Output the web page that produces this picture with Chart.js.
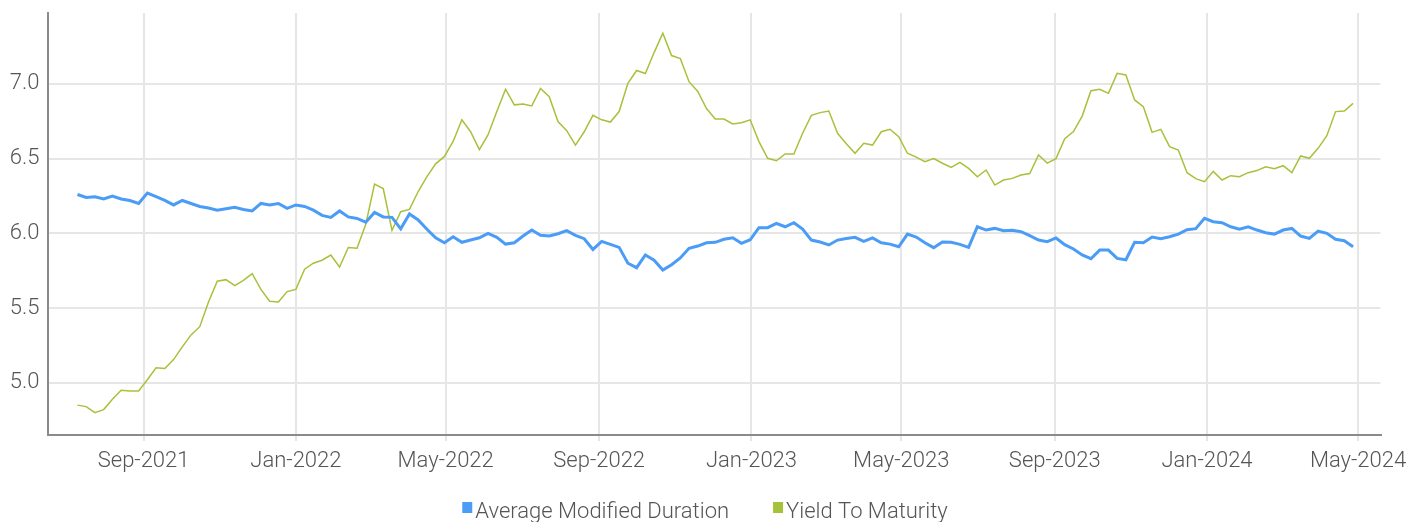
<!DOCTYPE html>
<html>
<head>
<meta charset="utf-8">
<title>Duration and Yield</title>
<script src="https://cdn.jsdelivr.net/npm/chart.js@4.4.1/dist/chart.umd.min.js"></script>
<style>
  html, body { margin: 0; padding: 0; background: #fff; }
  #chart { display: block; }
</style>
</head>
<body>
<canvas id="chart" width="1408" height="522"></canvas>
<script>
// weekly observations, the first one taken on 10 Jul 2021
const startDate = '2021-07-10';
const stepDays = 7;

const modifiedDuration = [
    6.26, 6.24, 6.245, 6.23, 6.25, 6.23, 6.22, 6.20, 6.27, 6.245,
    6.22, 6.19, 6.22, 6.20, 6.18, 6.17, 6.155, 6.165, 6.175, 6.16,
    6.15, 6.20, 6.19, 6.20, 6.167, 6.19, 6.18, 6.155, 6.12, 6.107,
    6.15, 6.11, 6.10, 6.075, 6.14, 6.11, 6.107, 6.03, 6.13, 6.09,
    6.027, 5.97, 5.937, 5.977, 5.94, 5.955, 5.97, 6.0, 5.973, 5.928,
    5.937, 5.982, 6.022, 5.987, 5.982, 5.997, 6.018, 5.987, 5.964, 5.892,
    5.946, 5.926, 5.906, 5.80, 5.77, 5.855, 5.82, 5.754, 5.79, 5.835,
    5.90, 5.915, 5.937, 5.94, 5.96, 5.97, 5.933, 5.957, 6.038, 6.038,
    6.067, 6.044, 6.071, 6.029, 5.955, 5.942, 5.922, 5.955, 5.966, 5.973,
    5.946, 5.969, 5.937, 5.928, 5.91, 5.995, 5.975, 5.937, 5.904, 5.942,
    5.94, 5.926, 5.906, 6.044, 6.022, 6.033, 6.018, 6.02, 6.011, 5.984,
    5.955, 5.944, 5.969, 5.924, 5.895, 5.855, 5.83, 5.888, 5.888, 5.832,
    5.823, 5.94, 5.937, 5.975, 5.964, 5.977, 5.995, 6.024, 6.031, 6.10,
    6.078, 6.071, 6.044, 6.027, 6.044, 6.022, 6.004, 5.995, 6.022, 6.033,
    5.982, 5.966, 6.015, 6.0, 5.96, 5.951, 5.91
];

const yieldToMaturity = [
    4.85, 4.84, 4.80, 4.82, 4.89, 4.95, 4.945, 4.945, 5.02, 5.10,
    5.095, 5.155, 5.24, 5.32, 5.375, 5.54, 5.68, 5.69, 5.65, 5.685,
    5.73, 5.625, 5.545, 5.54, 5.61, 5.625, 5.76, 5.80, 5.82, 5.855,
    5.775, 5.905, 5.90, 6.06, 6.33, 6.30, 6.02, 6.145, 6.16, 6.28,
    6.38, 6.465, 6.515, 6.615, 6.76, 6.68, 6.56, 6.66, 6.815, 6.965,
    6.86, 6.866, 6.853, 6.97, 6.915, 6.748, 6.687, 6.59, 6.68, 6.79,
    6.76, 6.745, 6.815, 7.005, 7.09, 7.07, 7.21, 7.34, 7.19, 7.17,
    7.015, 6.95, 6.835, 6.765, 6.765, 6.732, 6.741, 6.76, 6.614, 6.502,
    6.486, 6.531, 6.531, 6.67, 6.79, 6.808, 6.819, 6.67, 6.60, 6.536,
    6.603, 6.591, 6.68, 6.697, 6.647, 6.536, 6.51, 6.48, 6.50, 6.469,
    6.442, 6.475, 6.435, 6.379, 6.424, 6.323, 6.357, 6.368, 6.39, 6.40,
    6.525, 6.47, 6.50, 6.634, 6.681, 6.785, 6.955, 6.964, 6.937, 7.071,
    7.06, 6.893, 6.848, 6.676, 6.696, 6.58, 6.558, 6.406, 6.366, 6.346,
    6.415, 6.357, 6.386, 6.379, 6.406, 6.42, 6.446, 6.433, 6.453, 6.406,
    6.518, 6.502, 6.569, 6.654, 6.815, 6.819, 6.87
];

const seriesLabels = ['Average Modified Duration', 'Yield To Maturity'];
const seriesColors = ['#4a9cf7', '#a6c23a'];

const tickDates = [
    '2021-09-01', '2022-01-01', '2022-05-01', '2022-09-01', '2023-01-01',
    '2023-05-01', '2023-09-01', '2024-01-01', '2024-05-01'
];
const tickLabels = [
    'Sep-2021', 'Jan-2022', 'May-2022', 'Sep-2022', 'Jan-2023',
    'May-2023', 'Sep-2023', 'Jan-2024', 'May-2024'
];
const yTicks = [5.0, 5.5, 6.0, 6.5, 7.0];

const FONT = "Roboto, 'Liberation Sans', sans-serif";
const TEXT_COLOR = '#555';
const GRID_COLOR = '#e6e6e6';
const AXIS_COLOR = '#8a8a8a';

// x values are whole days since the epoch
const DAY_MS = 86400000;
const toDay = s => Date.parse(s + 'T00:00:00Z') / DAY_MS;

const firstDay = toDay(startDate);
const points = values => values.map((v, i) => ({ x: firstDay + i * stepDays, y: v }));

// legend drawn by hand: small square, tight gap, centred under the plot
const bottomLegend = {
    id: 'bottomLegend',
    afterDraw(chart) {
        const ctx = chart.ctx;
        const items = chart.data.datasets.map(ds => ({ text: ds.label, color: ds.borderColor }));
        const box = 10, gap = 3, spacing = 44;

        ctx.save();
        ctx.font = '300 22px ' + FONT;
        const widths = items.map(it => ctx.measureText(it.text).width);
        const total = widths.reduce((sum, w) => sum + box + gap + w, 0) + spacing * (items.length - 1);
        let x = chart.width / 2 + 1 - total / 2;

        items.forEach((it, i) => {
            ctx.fillStyle = it.color;
            ctx.fillRect(x, 502, box, 11);
            ctx.fillStyle = TEXT_COLOR;
            ctx.textBaseline = 'alphabetic';
            ctx.textAlign = 'left';
            ctx.fillText(it.text, x + box + gap, 518);
            x += box + gap + widths[i] + spacing;
        });
        ctx.restore();
    }
};

// keep the plot box fixed: no extra room reserved for end labels
const noScalePadding = scale => {
    scale.paddingLeft = 0;
    scale.paddingRight = 0;
    scale.paddingTop = 0;
    scale.paddingBottom = 0;
};

new Chart(document.getElementById('chart'), {
    type: 'line',
    data: {
        datasets: [
            {
                label: seriesLabels[0],
                data: points(modifiedDuration),
                borderColor: seriesColors[0],
                backgroundColor: seriesColors[0],
                borderWidth: 3,
                pointRadius: 0,
                tension: 0
            },
            {
                label: seriesLabels[1],
                data: points(yieldToMaturity),
                borderColor: seriesColors[1],
                backgroundColor: seriesColors[1],
                borderWidth: 1.5,
                pointRadius: 0,
                tension: 0
            }
        ]
    },
    options: {
        responsive: false,
        animation: false,
        devicePixelRatio: 1,
        layout: {
            padding: { top: 13, right: 27.5, left: 0, bottom: 0 }
        },
        plugins: {
            legend: { display: false },
            tooltip: { enabled: false }
        },
        scales: {
            x: {
                type: 'linear',
                min: toDay('2021-06-16'),
                max: toDay('2024-05-19'),
                afterBuildTicks: scale => {
                    scale.ticks = tickDates.map(d => ({ value: toDay(d) }));
                },
                afterFit: scale => {
                    scale.height = 87;
                    noScalePadding(scale);
                },
                ticks: {
                    autoSkip: false,
                    maxRotation: 0,
                    padding: 7,
                    color: TEXT_COLOR,
                    font: { family: FONT, size: 22, weight: '300' },
                    callback: (value, index) => tickLabels[index]
                },
                grid: {
                    color: GRID_COLOR,
                    lineWidth: 2,
                    drawTicks: true,
                    tickLength: 6,
                    tickColor: GRID_COLOR
                },
                border: { color: AXIS_COLOR, width: 2 }
            },
            y: {
                min: 4.65,
                max: 7.475,
                afterBuildTicks: scale => {
                    scale.ticks = yTicks.map(v => ({ value: v }));
                },
                afterFit: scale => {
                    scale.width = 47.5;
                    noScalePadding(scale);
                },
                ticks: {
                    padding: 8,
                    color: TEXT_COLOR,
                    font: { family: FONT, size: 22, weight: '300' },
                    callback: value => value.toFixed(1)
                },
                grid: {
                    color: GRID_COLOR,
                    lineWidth: 2,
                    drawTicks: false
                },
                border: { color: AXIS_COLOR, width: 2 }
            }
        }
    },
    plugins: [bottomLegend]
});
</script>
</body>
</html>
